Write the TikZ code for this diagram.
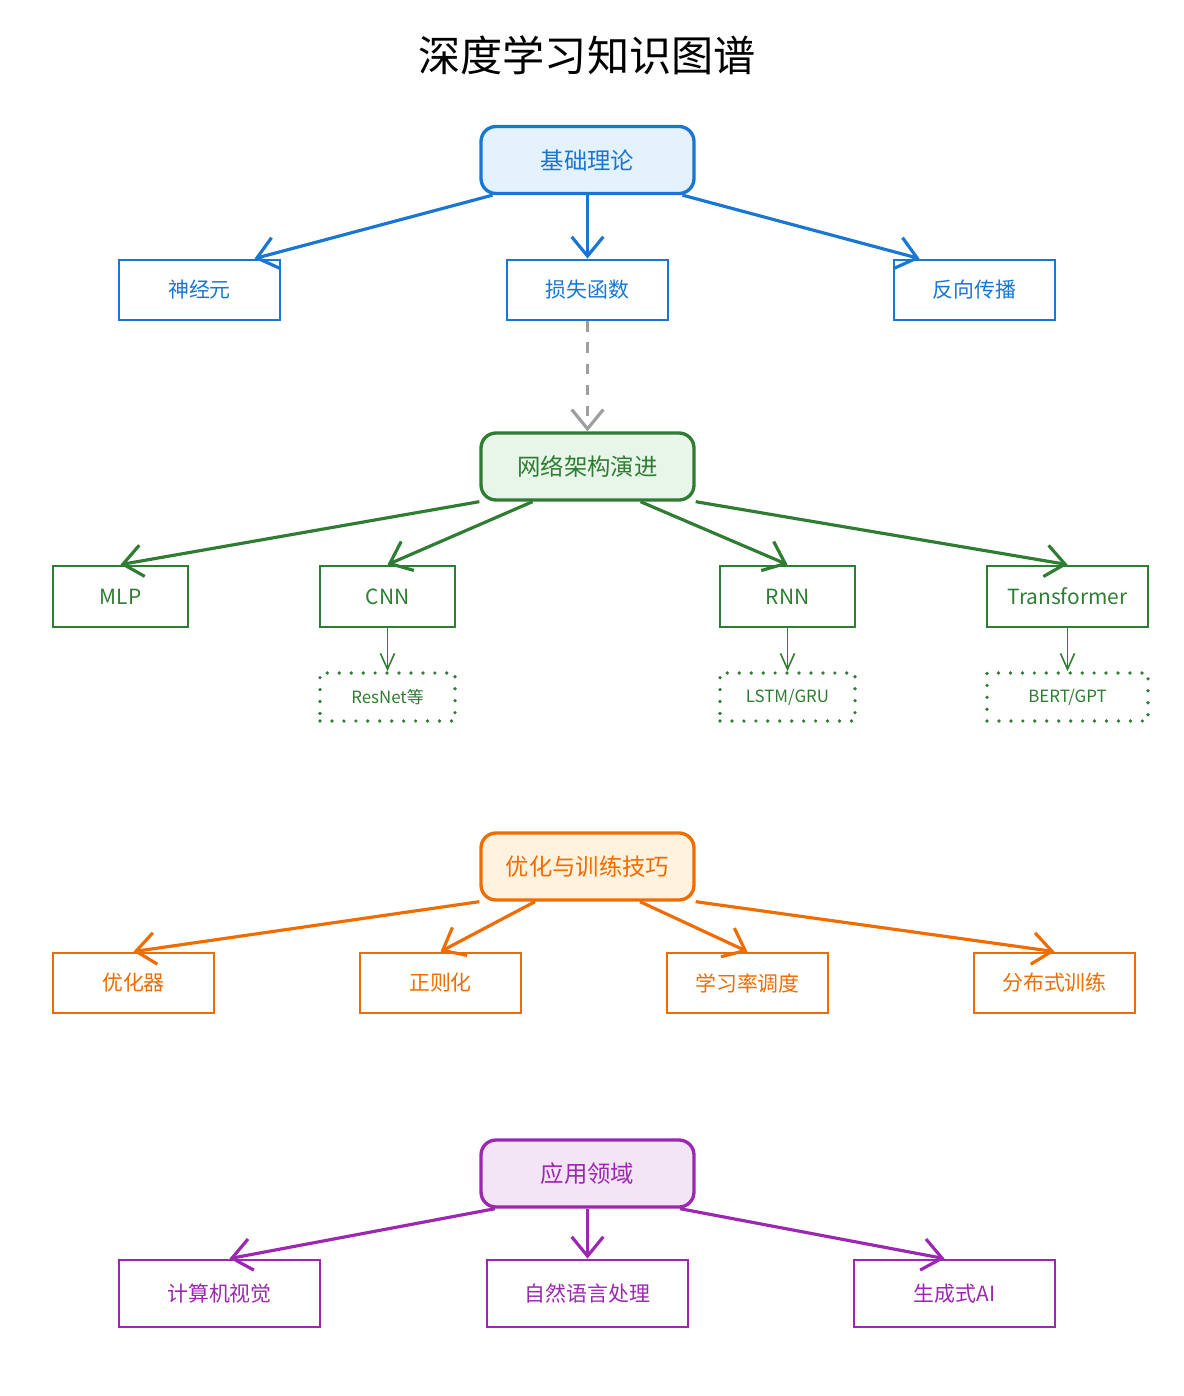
\documentclass[tikz,border=0pt]{standalone}
\usepackage{fontspec}
\setmainfont{Noto Sans CJK SC}
\usetikzlibrary{arrows.meta}

\definecolor{bluedk}{HTML}{1976D2}
\definecolor{bluelt}{HTML}{E3F2FD}
\definecolor{greendk}{HTML}{2E7D32}
\definecolor{greenlt}{HTML}{E8F5E9}
\definecolor{orangedk}{HTML}{EF6C00}
\definecolor{orangelt}{HTML}{FFF3E0}
\definecolor{purpledk}{HTML}{9C27B0}
\definecolor{purplelt}{HTML}{F3E5F5}
\definecolor{linkgray}{HTML}{9E9E9E}

\begin{document}
\begin{tikzpicture}[
  topic/.style={draw, line width=1.9pt, rounded corners=0.3cm, minimum width=4.26cm,
    minimum height=1.34cm, inner sep=0pt, font=\fontsize{13.3}{16}\selectfont},
  leaf/.style={draw, line width=1.6pt, minimum width=3.22cm, minimum height=1.2cm,
    inner sep=0pt, font=\fontsize{11.9}{14}\selectfont},
  variant/.style={draw, line width=2.1pt, line cap=round, dash pattern=on 0pt off 6.8pt,
    minimum width=2.7cm, minimum height=0.96cm, inner sep=0pt, font=\fontsize{9.6}{12}\selectfont},
  link/.style={line width=1.8pt, -{Straight Barb[length=11pt,width=18pt,line width=1.8pt]}},
  sublink/.style={line width=0.9pt, -{Straight Barb[length=9pt,width=8pt,line width=0.9pt]}}
]

\useasboundingbox (0,0) rectangle (23.66,-27.92);

% Title
\node (title) at (11.74,-1.1) {\fontsize{24}{28}\selectfont 深度学习知识图谱};

% Foundations
\node[topic, fill=bluelt, draw=bluedk, text=bluedk] (base) at (11.75,-3.2) {基础理论};
\node[leaf, draw=bluedk, text=bluedk] (neuron) at (3.99,-5.8) {神经元};
\node[leaf, draw=bluedk, text=bluedk] (loss) at (11.75,-5.8) {损失函数};
\node[leaf, draw=bluedk, text=bluedk] (backprop) at (19.49,-5.8) {反向传播};

\draw[link, bluedk] ([xshift=-1.9cm]base.south) -- ([xshift=1.1cm]neuron.north);
\draw[link, bluedk] (base.south) -- (loss.north);
\draw[link, bluedk] ([xshift=1.9cm]base.south) -- ([xshift=-1.1cm]backprop.north);

% Architectures
\node[topic, fill=greenlt, draw=greendk, text=greendk] (net) at (11.75,-9.33) {网络架构演进};
\node[leaf, draw=greendk, text=greendk, minimum width=2.7cm, minimum height=1.22cm] (mlp) at (2.41,-11.93) {MLP};
\node[leaf, draw=greendk, text=greendk, minimum width=2.7cm, minimum height=1.22cm] (cnn) at (7.75,-11.93) {CNN};
\node[leaf, draw=greendk, text=greendk, minimum width=2.7cm, minimum height=1.22cm] (rnn) at (15.75,-11.93) {RNN};
\node[leaf, draw=greendk, text=greendk, minimum height=1.22cm] (trans) at (21.35,-11.93) {Transformer};

\node[variant, draw=greendk, text=greendk] (resnet) at (7.75,-13.94) {ResNet等};
\node[variant, draw=greendk, text=greendk] (lstm) at (15.75,-13.94) {LSTM/GRU};
\node[variant, draw=greendk, text=greendk, minimum width=3.22cm] (bert) at (21.35,-13.94) {BERT/GPT};

\draw[link, linkgray, dash pattern=on 6pt off 6pt] (loss.south) -- (net.north);

\draw[link, greendk] (net.south west) -- (mlp.north);
\draw[link, greendk] ([xshift=-1.1cm]net.south) -- (cnn.north);
\draw[link, greendk] ([xshift=1.06cm]net.south) -- (rnn.north);
\draw[link, greendk] (net.south east) -- (trans.north);

\draw[sublink, greendk] (cnn) -- (resnet);
\draw[sublink, greendk] (rnn) -- (lstm);
\draw[sublink, greendk] (trans) -- (bert);

% Optimisation and training
\node[topic, fill=orangelt, draw=orangedk, text=orangedk] (train) at (11.75,-17.33) {优化与训练技巧};
\node[leaf, draw=orangedk, text=orangedk] (optim) at (2.67,-19.66) {优化器};
\node[leaf, draw=orangedk, text=orangedk] (reg) at (8.81,-19.66) {正则化};
\node[leaf, draw=orangedk, text=orangedk] (lr) at (14.95,-19.66) {学习率调度};
\node[leaf, draw=orangedk, text=orangedk] (dist) at (21.09,-19.66) {分布式训练};

\draw[link, orangedk] (train.south west) -- (optim.north);
\draw[link, orangedk] ([xshift=-1.05cm]train.south) -- (reg.north);
\draw[link, orangedk] ([xshift=1.05cm]train.south) -- (lr.north);
\draw[link, orangedk] (train.south east) -- (dist.north);

% Applications
\node[topic, fill=purplelt, draw=purpledk, text=purpledk] (app) at (11.75,-23.47) {应用领域};
\node[leaf, draw=purpledk, text=purpledk, minimum width=4.02cm, minimum height=1.34cm] (cv) at (4.39,-25.87) {计算机视觉};
\node[leaf, draw=purpledk, text=purpledk, minimum width=4.02cm, minimum height=1.34cm] (nlp) at (11.75,-25.87) {自然语言处理};
\node[leaf, draw=purpledk, text=purpledk, minimum width=4.02cm, minimum height=1.34cm] (genai) at (19.09,-25.87) {生成式AI};

\draw[link, purpledk] ([xshift=-1.85cm]app.south) -- ([xshift=0.2cm]cv.north);
\draw[link, purpledk] (app.south) -- (nlp.north);
\draw[link, purpledk] ([xshift=1.85cm]app.south) -- ([xshift=-0.2cm]genai.north);

\end{tikzpicture}
\end{document}
